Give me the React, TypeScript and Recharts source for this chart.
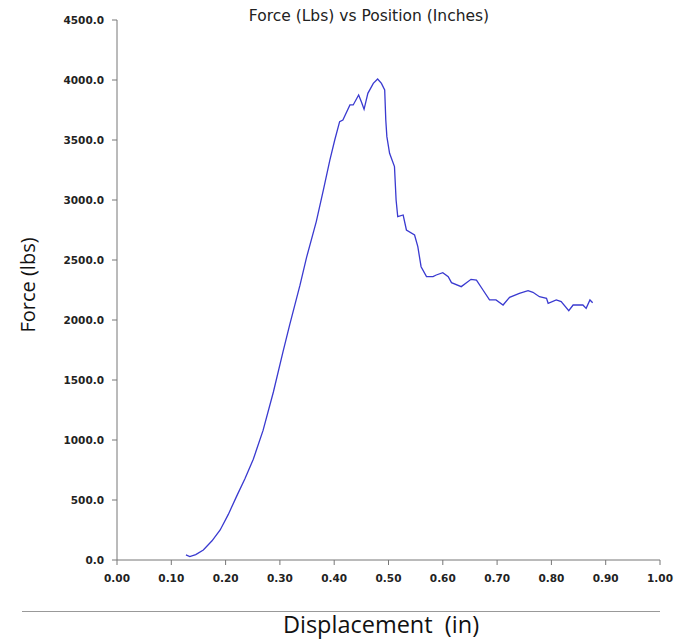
import React from "react";
import { LineChart, Line, XAxis, YAxis } from "recharts";

const displacement = [
  0.127, 0.134, 0.145, 0.159, 0.175, 0.19, 0.205, 0.22, 0.236, 0.251, 0.269, 0.288, 0.306, 0.318,
  0.337, 0.349, 0.367, 0.38, 0.392, 0.401, 0.41, 0.416, 0.429, 0.435, 0.445, 0.45, 0.455, 0.462,
  0.472, 0.48, 0.487, 0.493, 0.495, 0.497, 0.502, 0.511, 0.514, 0.517, 0.527, 0.533, 0.548,
  0.554, 0.56, 0.57, 0.582, 0.588, 0.6, 0.61, 0.616, 0.634, 0.652, 0.662, 0.674, 0.686, 0.698,
  0.711, 0.723, 0.741, 0.757, 0.766, 0.778, 0.791, 0.794, 0.809, 0.818, 0.832, 0.84, 0.858,
  0.864, 0.871, 0.876,
];

const force = [
  42, 28, 45, 83, 160, 250, 380, 528, 681, 840, 1080, 1400, 1740, 1960,
  2290, 2520, 2820, 3083, 3333, 3500, 3653, 3667, 3792, 3792, 3875, 3819, 3756, 3889,
  3972, 4008, 3972, 3917, 3667, 3528, 3389, 3278, 3000, 2861, 2875, 2750, 2708,
  2611, 2444, 2361, 2361, 2375, 2394, 2361, 2311, 2278, 2339, 2333, 2250, 2167, 2167,
  2125, 2189, 2222, 2244, 2231, 2194, 2181, 2139, 2167, 2153, 2078, 2125, 2125,
  2097, 2167, 2144,
];

const xTicks = [0, 0.1, 0.2, 0.3, 0.4, 0.5, 0.6, 0.7, 0.8, 0.9, 1.0];
const yTicks = [0, 500, 1000, 1500, 2000, 2500, 3000, 3500, 4000, 4500];

const chartTitle = "Force (Lbs) vs Position (Inches)";
const yLabel = "Force (lbs)";
const xLabel = "Displacement  (in)";

const data = displacement.map((x, i) => ({ x, y: force[i] }));

const tickStyle = {
  fontFamily: "DejaVu Sans, sans-serif",
  fontSize: 10.5,
  fontWeight: 700,
  fill: "#222",
};

export default function App() {
  return (
    <div style={{ position: "absolute", left: 0, top: 0, width: 675, height: 642, background: "#fff", overflow: "hidden" }}>
      <LineChart
        width={675}
        height={642}
        data={data}
        margin={{ top: 20, right: 15, bottom: 52, left: 57 }}
      >
        <XAxis
          dataKey="x"
          type="number"
          domain={[0, 1]}
          ticks={xTicks}
          tickFormatter={(v: number) => v.toFixed(2)}
          tick={tickStyle}
          tickSize={5}
          tickMargin={10}
          height={30}
          stroke="#777"
          interval={0}
        />
        <YAxis
          dataKey="y"
          type="number"
          domain={[0, 4500]}
          ticks={yTicks}
          tickFormatter={(v: number) => v.toFixed(1)}
          tick={tickStyle}
          tickSize={5}
          tickMargin={8}
          width={60}
          stroke="#777"
          interval={0}
        />
        <Line
          type="linear"
          dataKey="y"
          stroke="#3a3ad0"
          strokeWidth={1.3}
          dot={false}
          isAnimationActive={false}
        />
      </LineChart>
      <div
        style={{
          position: "absolute",
          left: 0,
          width: 738,
          top: 7,
          textAlign: "center",
          fontFamily: "DejaVu Sans, sans-serif",
          fontSize: 15.5,
          color: "#222",
          whiteSpace: "nowrap",
        }}
      >
        {chartTitle}
      </div>
      <div
        style={{
          position: "absolute",
          left: 27,
          top: 285,
          transform: "translate(-50%, -50%) rotate(-90deg)",
          whiteSpace: "nowrap",
          fontFamily: "Open Sans, sans-serif",
          fontSize: 20,
          color: "#111",
        }}
      >
        {yLabel}
      </div>
      <div
        style={{
          position: "absolute",
          left: 22,
          top: 611,
          width: 638,
          height: 0,
          borderTop: "1px solid #999",
        }}
      />
      <div
        style={{
          position: "absolute",
          left: 0,
          width: 762,
          top: 610,
          textAlign: "center",
          fontFamily: "Open Sans, sans-serif",
          fontSize: 23.5,
          lineHeight: "28px",
          color: "#111",
          whiteSpace: "pre",
        }}
      >
        {xLabel}
      </div>
    </div>
  );
}
